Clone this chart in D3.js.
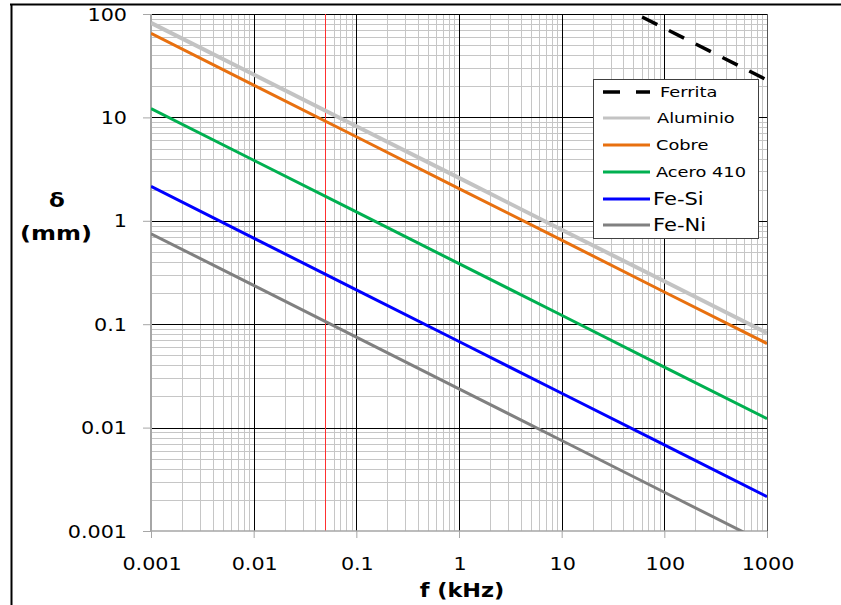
<!DOCTYPE html>
<html>
<head>
<meta charset="utf-8">
<script src="https://cdn.jsdelivr.net/npm/d3@7"></script>
<style>
  body { margin: 0; background: #fff; }
  svg { display: block; }
  text { font-family: "DejaVu Sans", Verdana, sans-serif; fill: #000; }
</style>
</head>
<body>
<svg width="841" height="605"></svg>
<script>
// datos
var freq = [0.001, 0.01, 0.1, 1, 10, 100, 1000];          // kHz
var ferritaFreq = [10, 100, 1000];
var ferrita  = [230, 73, 23];
var aluminio = [82, 26, 8.2, 2.6, 0.82, 0.26, 0.082];
var cobre    = [65, 20.5, 6.5, 2.05, 0.65, 0.205, 0.065];
var acero410 = [12.2, 3.85, 1.22, 0.385, 0.122, 0.0385, 0.0122];
var feSi     = [2.15, 0.68, 0.215, 0.068, 0.0215, 0.0068, 0.00215];
var feNi     = [0.75, 0.237, 0.075, 0.0237, 0.0075, 0.00237, 0.00075];
var xTicks = [0.001, 0.01, 0.1, 1, 10, 100, 1000];
var yTicks = [0.001, 0.01, 0.1, 1, 10, 100];
var fMarca = 0.05;   // línea roja

var svg = d3.select("svg");

var x = d3.scaleLog().domain([0.001, 1000]).range([151, 767]),
    y = d3.scaleLog().domain([0.001, 100]).range([531, 14]);

// helper: texto estirado en horizontal
function txt(g, s, px, py, size, anchor, sx, weight) {
  return g.append("text")
    .attr("transform", "translate(" + px + "," + py + ") scale(" + sx + ",1)")
    .attr("text-anchor", anchor)
    .style("font-size", size + "px")
    .style("font-weight", weight || "normal")
    .text(s);
}

// marco exterior
svg.append("line").attr("x1", 10).attr("x2", 841).attr("y1", 4.5).attr("y2", 4.5)
  .attr("stroke", "#000").attr("stroke-width", 2);
svg.append("line").attr("x1", 11.5).attr("x2", 11.5).attr("y1", 4).attr("y2", 605)
  .attr("stroke", "#000").attr("stroke-width", 2);

// rejilla menor
var minorX = [], minorY = [];
for (var e = -3; e < 3; e++) for (var k = 2; k <= 9; k++) minorX.push(k * Math.pow(10, e));
for (var e = -3; e < 2; e++) for (var k = 2; k <= 9; k++) minorY.push(k * Math.pow(10, e));

var grid = svg.append("g");
grid.selectAll(".mx").data(minorX).enter().append("line")
  .attr("x1", function (d) { return Math.round(x(d)) + 0.5; })
  .attr("x2", function (d) { return Math.round(x(d)) + 0.5; })
  .attr("y1", y(100)).attr("y2", y(0.001))
  .attr("stroke", "#c6c6c6").attr("stroke-width", 1);
grid.selectAll(".my").data(minorY).enter().append("line")
  .attr("y1", function (d) { return Math.round(y(d)) + 0.5; })
  .attr("y2", function (d) { return Math.round(y(d)) + 0.5; })
  .attr("x1", x(0.001)).attr("x2", x(1000))
  .attr("stroke", "#c6c6c6").attr("stroke-width", 1);

// rejilla mayor
grid.selectAll(".Mx").data(xTicks.slice(1)).enter().append("line")
  .attr("x1", function (d) { return Math.round(x(d)) + 0.5; })
  .attr("x2", function (d) { return Math.round(x(d)) + 0.5; })
  .attr("y1", y(100)).attr("y2", y(0.001))
  .attr("stroke", function (d) { return d == 1000 ? "#555" : "#000"; }).attr("stroke-width", 1);
grid.selectAll(".My").data(yTicks.slice(1)).enter().append("line")
  .attr("y1", function (d) { return Math.round(y(d)) + 0.5; })
  .attr("y2", function (d) { return Math.round(y(d)) + 0.5; })
  .attr("x1", x(0.001)).attr("x2", x(1000))
  .attr("stroke", "#000").attr("stroke-width", 1);

// línea roja
svg.append("line")
  .attr("x1", Math.round(x(fMarca)) + 0.5).attr("x2", Math.round(x(fMarca)) + 0.5)
  .attr("y1", y(100)).attr("y2", y(0.001))
  .attr("stroke", "#ff3030").attr("stroke-width", 1);

// ejes (gris)
svg.append("line").attr("x1", x(0.001)).attr("x2", x(0.001)).attr("y1", y(100)).attr("y2", y(0.001))
  .attr("stroke", "#a6a6a6").attr("stroke-width", 2);
svg.append("line").attr("x1", x(0.001)).attr("x2", x(1000)).attr("y1", y(0.001)).attr("y2", y(0.001))
  .attr("stroke", "#a6a6a6").attr("stroke-width", 1.5);

var yAxis = d3.axisLeft(y).tickValues(yTicks).tickSize(8).tickFormat("");
var gy = svg.append("g").attr("transform", "translate(" + x(0.001) + ",0)").call(yAxis);
gy.select(".domain").remove();
gy.selectAll("line").attr("stroke", "#a6a6a6");

var xAxis = d3.axisBottom(x).tickValues(xTicks).tickSize(7).tickFormat("");
var gx = svg.append("g").attr("transform", "translate(0," + y(0.001) + ")").call(xAxis);
gx.select(".domain").remove();
gx.selectAll("line").attr("stroke", "#a6a6a6");

// etiquetas de ejes
yTicks.forEach(function (d) {
  txt(svg, d3.format("~g")(d) === "1e-3" ? "0.001" : String(d), 127, y(d) + 6.5, 18, "end", 1.15);
});
xTicks.forEach(function (d) {
  txt(svg, String(d), x(d) + 1, 570, 18, "middle", 1.15);
});

// títulos
txt(svg, "f (kHz)", 462, 597, 20, "middle", 1.12, "bold");
txt(svg, "δ", 57, 207, 20, "middle", 1.15, "bold");
txt(svg, "(mm)", 56, 240, 20, "middle", 1.2, "bold");

// series
svg.append("defs").append("clipPath").attr("id", "clip")
  .append("rect").attr("x", x(0.001)).attr("y", y(100))
  .attr("width", x(1000) - x(0.001)).attr("height", y(0.001) - y(100));

var series = [
  { name: "Aluminio", xs: freq, ys: aluminio, color: "#c3c3c3", w: 4 },
  { name: "Cobre", xs: freq, ys: cobre, color: "#e8700f", w: 3 },
  { name: "Acero 410", xs: freq, ys: acero410, color: "#00b050", w: 3 },
  { name: "Fe-Si", xs: freq, ys: feSi, color: "#0000ff", w: 3 },
  { name: "Fe-Ni", xs: freq, ys: feNi, color: "#808080", w: 3 },
  { name: "Ferrita", xs: ferritaFreq, ys: ferrita, color: "#000", w: 3.5, dash: "17,13" }
];

var line = d3.line()
  .x(function (d) { return x(d[0]); })
  .y(function (d) { return y(d[1]); });

var plot = svg.append("g").attr("clip-path", "url(#clip)");
series.forEach(function (s) {
  plot.append("path")
    .datum(s.xs.map(function (f, i) { return [f, s.ys[i]]; }))
    .attr("fill", "none")
    .attr("stroke", s.color)
    .attr("stroke-width", s.w)
    .attr("stroke-dasharray", s.dash || null)
    .attr("d", line);
});

// leyenda
var leg = svg.append("g");
leg.append("rect").attr("x", 593.5).attr("y", 79.5).attr("width", 165).attr("height", 159)
  .attr("fill", "#fff").attr("stroke", "#404040").attr("stroke-width", 1);

var legItems = [
  { name: "Ferrita", color: "#000", w: 3.5, dash: "17,16", y: 92, tx: 660, size: 14, sx: 1.27 },
  { name: "Aluminio", color: "#c3c3c3", w: 3, y: 118, tx: 657, size: 14, sx: 1.27 },
  { name: "Cobre", color: "#e8700f", w: 3, y: 145, tx: 656, size: 14, sx: 1.27 },
  { name: "Acero 410", color: "#00b050", w: 3, y: 172, tx: 656, size: 14, sx: 1.27 },
  { name: "Fe-Si", color: "#0000ff", w: 3, y: 199, tx: 653, size: 18, sx: 1.17 },
  { name: "Fe-Ni", color: "#808080", w: 3, y: 225, tx: 653, size: 18, sx: 1.17 }
];
legItems.forEach(function (d) {
  leg.append("line").attr("x1", 603).attr("x2", 650).attr("y1", d.y).attr("y2", d.y)
    .attr("stroke", d.color).attr("stroke-width", d.w)
    .attr("stroke-dasharray", d.dash || null);
  txt(leg, d.name, d.tx, d.y + d.size * 0.36, d.size, "start", d.sx);
});
</script>
</body>
</html>
